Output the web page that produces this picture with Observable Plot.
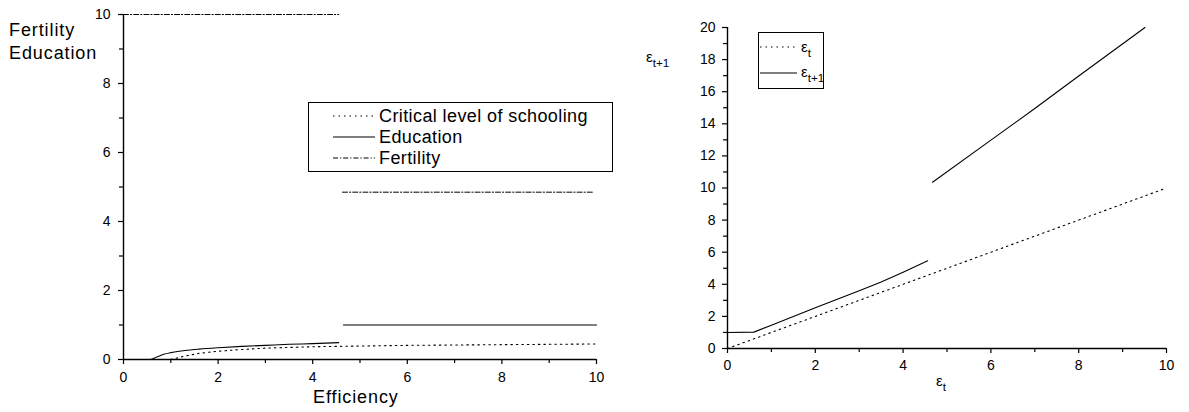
<!DOCTYPE html>
<html>
<head>
<meta charset="utf-8">
<script src="https://cdn.jsdelivr.net/npm/d3@7"></script>
<script src="https://cdn.jsdelivr.net/npm/@observablehq/plot@0.6"></script>
<style>
  html, body { margin: 0; padding: 0; background: #fff; }
  #wrap { position: relative; width: 1189px; height: 412px; overflow: hidden; font-family: "Liberation Sans", Arial, sans-serif; color: #000; }
  #left { position: absolute; left: 0; top: 0; }
  #right { position: absolute; left: 600px; top: 0; }
  #overlay { position: absolute; left: 0; top: 0; pointer-events: none; }
  #left svg text, #right svg text { font-size: 14px !important; fill: #000 !important; font-family: "Liberation Sans", Arial, sans-serif !important; }
  #left svg g[aria-label$="axis tick"], #right svg g[aria-label$="axis tick"] { stroke: #000 !important; stroke-opacity: 1 !important; stroke-width: 1.2px !important; }
  #left svg g[aria-label$="axis tick"] path, #right svg g[aria-label$="axis tick"] path { stroke: #000 !important; stroke-opacity: 1 !important; }
</style>
</head>
<body>
<div id="wrap">
  <div id="left"></div>
  <div id="right"></div>
  <svg id="overlay" width="1189" height="412"></svg>
</div>
<script>
// ---------------- Data: left panel ----------------
const majorTicks = [0, 2, 4, 6, 8, 10];
const minorTicks = [1, 3, 5, 7, 9];
const rightYMajor = [0, 2, 4, 6, 8, 10, 12, 14, 16, 18, 20];
const rightYMinor = [1, 3, 5, 7, 9, 11, 13, 15, 17, 19];

// Education (solid), low regime
const eduLowX = [0, 0.57, 0.7, 0.85, 1.0, 1.3, 1.6, 2.0, 2.5, 3.0, 3.5, 4.0, 4.55];
const eduLowY = [0, 0, 0.07, 0.15, 0.2, 0.26, 0.3, 0.34, 0.38, 0.41, 0.44, 0.46, 0.49];
// Education, high regime
const eduHighX = [4.65, 10];
const eduHighY = [1.0, 1.0];
// Critical level of schooling (dotted)
const critX = [1.0, 1.3, 1.6, 2.0, 2.5, 3.0, 4.0, 5.0, 6.0, 7.0, 8.0, 9.0, 10];
const critY = [0, 0.1, 0.18, 0.24, 0.29, 0.33, 0.37, 0.39, 0.41, 0.42, 0.43, 0.44, 0.45];
// Fertility (dash-dot)
const fertLowX = [0, 4.55];
const fertLowY = [10, 10];
const fertHighX = [4.63, 9.95];
const fertHighY = [4.85, 4.85];

// ---------------- Data: right panel ----------------
const epsTX = [0, 10];
const epsTY = [0, 10];
const epsNextLowX = [0, 0.6, 1.0, 1.5, 2.0, 2.5, 3.0, 3.5, 4.0, 4.56];
const epsNextLowY = [1.0, 1.02, 1.45, 2.0, 2.54, 3.07, 3.6, 4.14, 4.75, 5.46];
const epsNextHighX = [4.67, 6, 7, 8, 9.51];
const epsNextHighY = [10.36, 12.98, 14.95, 16.98, 20];

const legendLeft = ["Critical level of schooling", "Education", "Fertility"];

const zip = (xs, ys) => xs.map((x, i) => ({x, y: ys[i]}));

const DOT = "1.5,4";
const DASHDOT = "5,2,1.2,2";
const INK = "#000";
const FONT = "'Liberation Sans', Arial, sans-serif";
const TICKFS = 14;

const axisOpts = {stroke: INK, strokeWidth: 1.2, strokeOpacity: 1, fill: INK, fontSize: TICKFS, label: null};

// ---------------- Left chart ----------------
const left = Plot.plot({
  width: 620,
  height: 412,
  marginLeft: 123,
  marginRight: 24,
  marginTop: 14,
  marginBottom: 53,
  style: {fontFamily: FONT, fontSize: TICKFS + "px", color: INK, background: "transparent"},
  x: {domain: [0, 10]},
  y: {domain: [0, 10]},
  marks: [
    Plot.axisX({...axisOpts, ticks: majorTicks, tickSize: 5, tickPadding: 8, tickFormat: d => String(d)}),
    Plot.axisX({...axisOpts, ticks: minorTicks, tickSize: 4, tickFormat: () => ""}),
    Plot.axisY({...axisOpts, ticks: majorTicks, tickSize: 5, tickPadding: 8, tickFormat: d => String(d)}),
    Plot.axisY({...axisOpts, ticks: minorTicks, tickSize: 4, tickFormat: () => ""}),
    Plot.line(zip(critX, critY), {x: "x", y: "y", stroke: INK, strokeWidth: 1.1, strokeDasharray: DOT}),
    Plot.line(zip(eduLowX, eduLowY), {x: "x", y: "y", stroke: INK, strokeWidth: 1.1, curve: "monotone-x"}),
    Plot.line(zip(eduHighX, eduHighY), {x: "x", y: "y", stroke: INK, strokeWidth: 1.1}),
    Plot.line(zip(fertLowX, fertLowY), {x: "x", y: "y", stroke: INK, strokeWidth: 1, strokeDasharray: DASHDOT}),
    Plot.line(zip(fertHighX, fertHighY), {x: "x", y: "y", stroke: INK, strokeWidth: 1, strokeDasharray: DASHDOT}),
    Plot.ruleY([0], {stroke: INK, strokeWidth: 1.4}),
    Plot.ruleX([0], {stroke: INK, strokeWidth: 1.4})
  ]
});
document.getElementById("left").appendChild(left);

// ---------------- Right chart ----------------
const right = Plot.plot({
  width: 589,
  height: 412,
  marginLeft: 127,
  marginRight: 23,
  marginTop: 27,
  marginBottom: 64,
  style: {fontFamily: FONT, fontSize: TICKFS + "px", color: INK, background: "transparent"},
  x: {domain: [0, 10]},
  y: {domain: [0, 20]},
  marks: [
    Plot.axisX({...axisOpts, ticks: majorTicks, tickSize: 5, tickPadding: 7, tickFormat: d => String(d)}),
    Plot.axisX({...axisOpts, ticks: minorTicks, tickSize: 4, tickFormat: () => ""}),
    Plot.axisY({...axisOpts, ticks: rightYMajor, tickSize: 5, tickPadding: 7, tickFormat: d => String(d)}),
    Plot.axisY({...axisOpts, ticks: rightYMinor, tickSize: 4, tickFormat: () => ""}),
    Plot.line(zip(epsTX, epsTY), {x: "x", y: "y", stroke: INK, strokeWidth: 1.1, strokeDasharray: DOT}),
    Plot.line(zip(epsNextLowX, epsNextLowY), {x: "x", y: "y", stroke: INK, strokeWidth: 1.1}),
    Plot.line(zip(epsNextHighX, epsNextHighY), {x: "x", y: "y", stroke: INK, strokeWidth: 1.1}),
    Plot.ruleY([0], {stroke: INK, strokeWidth: 1.4}),
    Plot.ruleX([0], {stroke: INK, strokeWidth: 1.4})
  ]
});
document.getElementById("right").appendChild(right);

// ---------------- Overlay: axis titles and legends ----------------
const ov = d3.select("#overlay");
const txt = (x, y, s, size, extra = {}) => {
  const t = ov.append("text").attr("x", x).attr("y", y).attr("fill", INK)
    .attr("font-family", FONT).attr("font-size", size).text(s);
  for (const k in extra) t.attr(k, extra[k]);
  return t;
};

// left axis titles
txt(9, 36, "Fertility", 18, {"letter-spacing": "0.9px"});
txt(9, 59, "Education", 18, {"letter-spacing": "0.9px"});
txt(313, 403, "Efficiency", 18, {"letter-spacing": "0.9px"});

// left legend
ov.append("rect").attr("x", 308.5).attr("y", 102.5).attr("width", 304).attr("height", 69)
  .attr("fill", "#fff").attr("stroke", INK).attr("stroke-width", 1);
const legRowsY = [116, 137, 158];
const legDash = [DOT, null, DASHDOT];
legendLeft.forEach((name, i) => {
  const ln = ov.append("line").attr("x1", 333).attr("x2", 375)
    .attr("y1", legRowsY[i]).attr("y2", legRowsY[i]).attr("stroke", INK).attr("stroke-width", 1.1);
  if (legDash[i]) ln.attr("stroke-dasharray", legDash[i]);
  txt(379, legRowsY[i] + 6, name, 18, {"letter-spacing": "0.4px"});
});

// right axis titles (epsilon with subscripts)
const eps = (x, y, sub, size) => {
  const t = ov.append("text").attr("x", x).attr("y", y).attr("fill", INK)
    .attr("font-family", FONT).attr("font-size", size);
  t.append("tspan").text("ε");
  t.append("tspan").attr("dy", 5).attr("font-size", size * 0.78).text(sub);
};
eps(646, 62, "t+1", 15);
eps(936, 386, "t", 15);

// right legend
ov.append("rect").attr("x", 758.5).attr("y", 32.5).attr("width", 65).attr("height", 56)
  .attr("fill", "#fff").attr("stroke", INK).attr("stroke-width", 1);
ov.append("line").attr("x1", 760).attr("x2", 797).attr("y1", 47).attr("y2", 47)
  .attr("stroke", INK).attr("stroke-width", 1.1).attr("stroke-dasharray", DOT);
ov.append("line").attr("x1", 760).attr("x2", 797).attr("y1", 73).attr("y2", 73)
  .attr("stroke", INK).attr("stroke-width", 1.1);
eps(801, 52, "t", 15);
eps(801, 77, "t+1", 15);
</script>
</body>
</html>
